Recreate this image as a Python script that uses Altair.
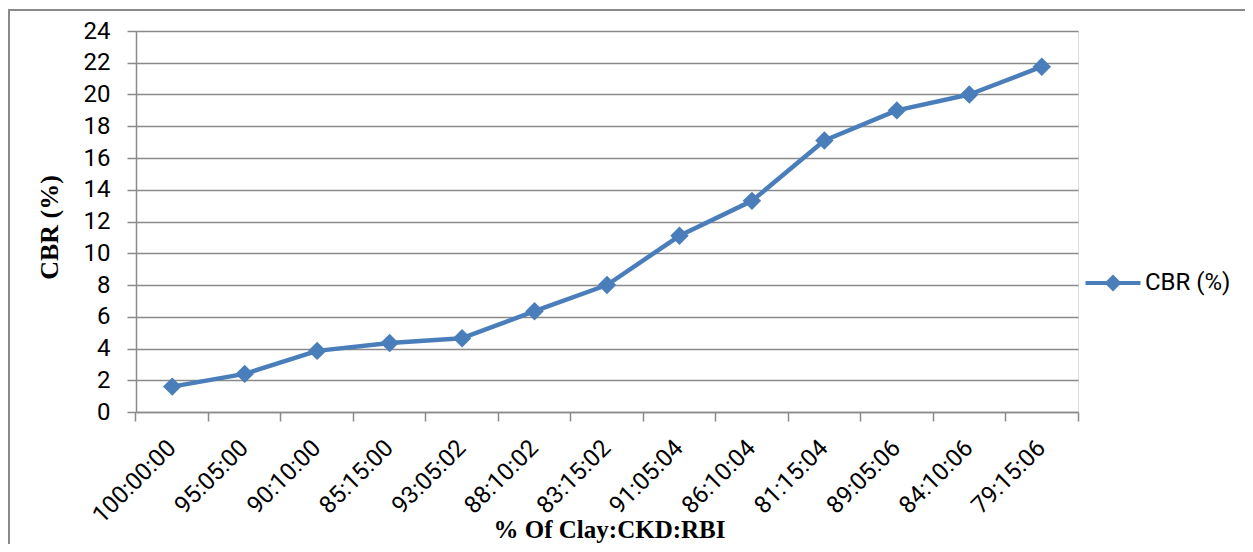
import altair as alt
import pandas as pd

categories = ["100:00:00", "95:05:00", "90:10:00", "85:15:00", "93:05:02",
              "88:10:02", "83:15:02", "91:05:04", "86:10:04", "81:15:04",
              "89:05:06", "84:10:06", "79:15:06"]
cbr = [1.6, 2.4, 3.85, 4.35, 4.65, 6.35, 8.0, 11.1, 13.3, 17.1, 19.0, 20.0, 21.75]
series_name = "CBR (%)"
y_ticks = [0, 2, 4, 6, 8, 10, 12, 14, 16, 18, 20, 22, 24]

df = pd.DataFrame({"mix": categories, "cbr": cbr, "series": [series_name] * len(categories)})
frame_df = pd.DataFrame({"a": [0]})

BLUE = "#4a7ebb"
GRAY = "#8a8a8a"
SANS = "Roboto"
SERIF = "Liberation Serif"

xscale = alt.Scale(type="band", domain=categories, paddingInner=0, paddingOuter=0)
yscale = alt.Scale(domain=[0, 24], nice=False, zero=True)

y_enc = alt.Y(
    "cbr:Q", scale=yscale,
    axis=alt.Axis(
        values=y_ticks, orient="left", tickSize=9, tickColor=GRAY, tickWidth=1.5,
        domainColor=GRAY, domainWidth=1.5, grid=True, gridColor=GRAY, gridWidth=1.5,
        labelFont=SANS, labelFontSize=24, labelColor="#000", labelPadding=17,
        title="CBR (%)", titleFont=SERIF, titleFontSize=26, titleFontWeight="bold",
        titleColor="#000", titleX=-79, titleY=196, titleAngle=270,
        titleBaseline="alphabetic", titleAlign="center",
    ),
)

frame = alt.Chart(frame_df).mark_rect(fillOpacity=0, stroke=GRAY, strokeWidth=2).encode(
    x=alt.value(-127), x2=alt.value(1200), y=alt.value(-21), y2=alt.value(600)
)

line = alt.Chart(df).mark_line(strokeWidth=4.5, color=BLUE, strokeJoin="round").encode(
    x=alt.X(
        "mix:N", scale=xscale, sort=categories, bandPosition=0.5,
        axis=alt.Axis(
            orient="bottom", ticks=False, domain=False, grid=False,
            labelAngle=-45, labelAlign="right", labelBaseline="middle",
            labelPadding=32, labelFont=SANS, labelFontSize=24, labelColor="#000",
            labelOverlap=False,
            title="% Of Clay:CKD:RBI", titleFont=SERIF, titleFontSize=25,
            titleFontWeight="bold", titleColor="#000", titleX=473, titleY=125,
            titleBaseline="alphabetic", titleAlign="center",
        ),
    ),
    y=y_enc,
)

legend_symbol = ("M-2.5,-0.18L2.5,-0.18L2.5,0.18L-2.5,0.18Z "
                 "M0,-0.77L0.77,0L0,0.77L-0.77,0Z")

points = alt.Chart(df).mark_point(shape="diamond", filled=True, size=340, opacity=1).encode(
    x=alt.X(
        "mix:N", scale=xscale, sort=categories, bandPosition=0.5,
        axis=alt.Axis(
            orient="bottom", labels=False, title=None, ticks=True, tickSize=9,
            tickColor=GRAY, tickWidth=1.5, bandPosition=1, tickExtra=True,
            domain=True, domainColor=GRAY, domainWidth=1.5, grid=False,
        ),
    ),
    y=y_enc,
    color=alt.Color(
        "series:N", scale=alt.Scale(domain=[series_name], range=[BLUE]),
        legend=alt.Legend(
            orient="none", legendX=965, legendY=240, title=None, padding=0,
            symbolType=legend_symbol, symbolSize=484, symbolStrokeWidth=0,
            symbolOpacity=1, labelFont=SANS, labelFontSize=24, labelColor="#000",
            labelOffset=20,
        ),
    ),
)

chart = alt.layer(frame, line, points).resolve_axis(x="independent").properties(
    width=942, height=381,
    autosize=alt.AutoSizeParams(type="none"),
    padding={"left": 128, "top": 23, "right": 167, "bottom": 132},
).configure_view(stroke=None).configure(background="white")

chart.save("out.html", embed_options={"renderer": "svg", "actions": False})
